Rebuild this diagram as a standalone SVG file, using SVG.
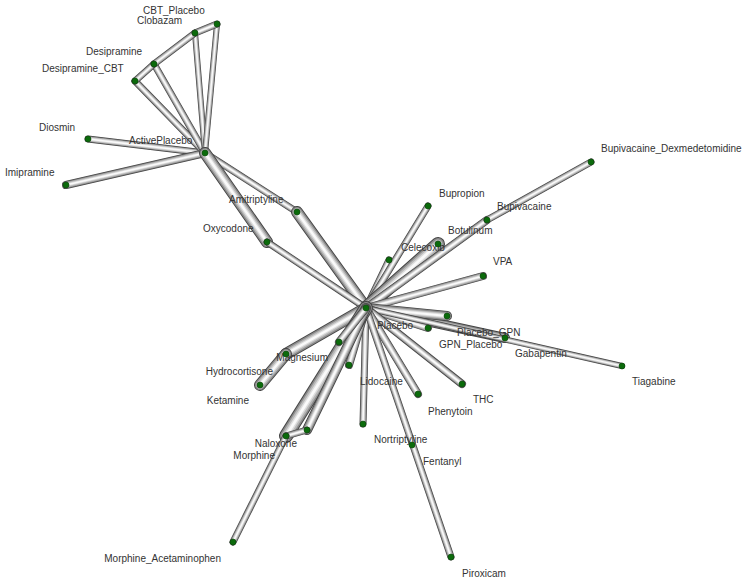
<svg xmlns="http://www.w3.org/2000/svg" xmlns:xlink="http://www.w3.org/1999/xlink" width="749" height="581" viewBox="0 0 749 581">
<style>
.bg{fill:#ffffff}
.a{stroke:#444444;stroke-linecap:round}
.b{stroke:#8a8a8a;stroke-linecap:round}
.c{stroke:#b8b8b8;stroke-linecap:round}
.d{stroke:#dddddd;stroke-linecap:round}
.f{stroke:#fafafa;stroke-linecap:round}
.w6 .a{stroke-width:6}.w6 .b{stroke-width:4.8}.w6 .c{stroke-width:3.6}.w6 .d{stroke-width:2.4}.w6 .f{stroke-width:1.2}
.w7 .a{stroke-width:7}.w7 .b{stroke-width:5.7}.w7 .c{stroke-width:4.3}.w7 .d{stroke-width:2.8}.w7 .f{stroke-width:1.4}
.w8 .a{stroke-width:8}.w8 .b{stroke-width:6.6}.w8 .c{stroke-width:5}.w8 .d{stroke-width:3.2}.w8 .f{stroke-width:1.6}
.w10 .a{stroke-width:10}.w10 .b{stroke-width:8.4}.w10 .c{stroke-width:6.2}.w10 .d{stroke-width:4}.w10 .f{stroke-width:2}
.w12 .a{stroke-width:12}.w12 .b{stroke-width:10.2}.w12 .c{stroke-width:7.6}.w12 .d{stroke-width:4.8}.w12 .f{stroke-width:2.4}
.w14 .a{stroke-width:14}.w14 .b{stroke-width:12}.w14 .c{stroke-width:9}.w14 .d{stroke-width:5.6}.w14 .f{stroke-width:2.8}
.n circle{fill:#0b6b0b;stroke:#044004;stroke-width:0.6}
.n text{font-family:"Liberation Sans",Arial,sans-serif;font-size:10px;fill:#333333}
.e{text-anchor:end}
</style>
<defs>
<line id="L1" x1="205" y1="153" x2="88" y2="139"/>
<line id="L2" x1="205" y1="153" x2="66" y2="185"/>
<line id="L3" x1="205" y1="153" x2="135" y2="81"/>
<line id="L4" x1="205" y1="153" x2="154" y2="64"/>
<line id="L5" x1="205" y1="153" x2="195" y2="33"/>
<line id="L6" x1="205" y1="153" x2="217" y2="24"/>
<line id="L7" x1="135" y1="81" x2="154" y2="64"/>
<line id="L8" x1="154" y1="64" x2="195" y2="33"/>
<line id="L9" x1="195" y1="33" x2="217" y2="24"/>
<line id="L10" x1="205" y1="153" x2="297" y2="212"/>
<line id="L11" x1="205" y1="153" x2="267" y2="242"/>
<line id="L12" x1="297" y1="212" x2="366" y2="308"/>
<line id="L13" x1="267" y1="242" x2="366" y2="308"/>
<line id="L14" x1="366" y1="308" x2="389" y2="260"/>
<line id="L15" x1="366" y1="308" x2="428" y2="206"/>
<line id="L16" x1="366" y1="308" x2="438" y2="244"/>
<line id="L17" x1="366" y1="308" x2="487" y2="220"/>
<line id="L18" x1="487" y1="220" x2="591" y2="162"/>
<line id="L19" x1="366" y1="308" x2="483" y2="276"/>
<line id="L20" x1="366" y1="308" x2="447" y2="316"/>
<line id="L21" x1="366" y1="308" x2="428" y2="328"/>
<line id="L22" x1="366" y1="308" x2="505" y2="338"/>
<line id="L23" x1="366" y1="308" x2="622" y2="366"/>
<line id="L24" x1="366" y1="308" x2="462" y2="384"/>
<line id="L25" x1="366" y1="308" x2="418" y2="394"/>
<line id="L26" x1="366" y1="308" x2="363" y2="424"/>
<line id="L27" x1="366" y1="308" x2="451" y2="557"/>
<line id="L28" x1="366" y1="308" x2="349" y2="365"/>
<line id="L29" x1="366" y1="308" x2="339" y2="342"/>
<line id="L30" x1="366" y1="308" x2="286" y2="354"/>
<line id="L31" x1="286" y1="354" x2="260" y2="385"/>
<line id="L32" x1="366" y1="308" x2="286" y2="436"/>
<line id="L33" x1="366" y1="308" x2="307" y2="430"/>
<line id="L34" x1="307" y1="430" x2="286" y2="436"/>
<line id="L35" x1="286" y1="436" x2="233" y2="542"/>
</defs>
<rect class="bg" x="0" y="0" width="749" height="581"/>
<g id="connectors">
<g id="e-ap-diosmin" class="w7"><use href="#L1" class="a"/><use href="#L1" class="b"/><use href="#L1" class="c"/><use href="#L1" class="d"/><use href="#L1" class="f"/></g>
<g id="e-ap-imipramine" class="w8"><use href="#L2" class="a"/><use href="#L2" class="b"/><use href="#L2" class="c"/><use href="#L2" class="d"/><use href="#L2" class="f"/></g>
<g id="e-ap-desipramine_cbt" class="w7"><use href="#L3" class="a"/><use href="#L3" class="b"/><use href="#L3" class="c"/><use href="#L3" class="d"/><use href="#L3" class="f"/></g>
<g id="e-ap-desipramine" class="w7"><use href="#L4" class="a"/><use href="#L4" class="b"/><use href="#L4" class="c"/><use href="#L4" class="d"/><use href="#L4" class="f"/></g>
<g id="e-ap-clobazam" class="w6"><use href="#L5" class="a"/><use href="#L5" class="b"/><use href="#L5" class="c"/><use href="#L5" class="d"/><use href="#L5" class="f"/></g>
<g id="e-ap-cbt_placebo" class="w6"><use href="#L6" class="a"/><use href="#L6" class="b"/><use href="#L6" class="c"/><use href="#L6" class="d"/><use href="#L6" class="f"/></g>
<g id="e-dcbt-desipramine" class="w7"><use href="#L7" class="a"/><use href="#L7" class="b"/><use href="#L7" class="c"/><use href="#L7" class="d"/><use href="#L7" class="f"/></g>
<g id="e-desipramine-clobazam" class="w7"><use href="#L8" class="a"/><use href="#L8" class="b"/><use href="#L8" class="c"/><use href="#L8" class="d"/><use href="#L8" class="f"/></g>
<g id="e-clobazam-cbt_placebo" class="w7"><use href="#L9" class="a"/><use href="#L9" class="b"/><use href="#L9" class="c"/><use href="#L9" class="d"/><use href="#L9" class="f"/></g>
<g id="e-ap-amitriptyline" class="w7"><use href="#L10" class="a"/><use href="#L10" class="b"/><use href="#L10" class="c"/><use href="#L10" class="d"/><use href="#L10" class="f"/></g>
<g id="e-ap-oxycodone" class="w12"><use href="#L11" class="a"/><use href="#L11" class="b"/><use href="#L11" class="c"/><use href="#L11" class="d"/><use href="#L11" class="f"/></g>
<g id="e-amitriptyline-placebo" class="w12"><use href="#L12" class="a"/><use href="#L12" class="b"/><use href="#L12" class="c"/><use href="#L12" class="d"/><use href="#L12" class="f"/></g>
<g id="e-oxycodone-placebo" class="w7"><use href="#L13" class="a"/><use href="#L13" class="b"/><use href="#L13" class="c"/><use href="#L13" class="d"/><use href="#L13" class="f"/></g>
<g id="e-placebo-celecoxib" class="w7"><use href="#L14" class="a"/><use href="#L14" class="b"/><use href="#L14" class="c"/><use href="#L14" class="d"/><use href="#L14" class="f"/></g>
<g id="e-placebo-bupropion" class="w7"><use href="#L15" class="a"/><use href="#L15" class="b"/><use href="#L15" class="c"/><use href="#L15" class="d"/><use href="#L15" class="f"/></g>
<g id="e-placebo-botulinum" class="w14"><use href="#L16" class="a"/><use href="#L16" class="b"/><use href="#L16" class="c"/><use href="#L16" class="d"/><use href="#L16" class="f"/></g>
<g id="e-placebo-bupivacaine" class="w8"><use href="#L17" class="a"/><use href="#L17" class="b"/><use href="#L17" class="c"/><use href="#L17" class="d"/><use href="#L17" class="f"/></g>
<g id="e-bupivacaine-bupi_dex" class="w7"><use href="#L18" class="a"/><use href="#L18" class="b"/><use href="#L18" class="c"/><use href="#L18" class="d"/><use href="#L18" class="f"/></g>
<g id="e-placebo-vpa" class="w8"><use href="#L19" class="a"/><use href="#L19" class="b"/><use href="#L19" class="c"/><use href="#L19" class="d"/><use href="#L19" class="f"/></g>
<g id="e-placebo-gabapentin" class="w10"><use href="#L22" class="a"/><use href="#L22" class="b"/><use href="#L22" class="c"/><use href="#L22" class="d"/><use href="#L22" class="f"/></g>
<g id="e-placebo-placebo_gpn" class="w10"><use href="#L20" class="a"/><use href="#L20" class="b"/><use href="#L20" class="c"/><use href="#L20" class="d"/><use href="#L20" class="f"/></g>
<g id="e-placebo-gpn_placebo" class="w8"><use href="#L21" class="a"/><use href="#L21" class="b"/><use href="#L21" class="c"/><use href="#L21" class="d"/><use href="#L21" class="f"/></g>
<g id="e-placebo-tiagabine" class="w6"><use href="#L23" class="a"/><use href="#L23" class="b"/><use href="#L23" class="c"/><use href="#L23" class="d"/><use href="#L23" class="f"/></g>
<g id="e-placebo-thc" class="w8"><use href="#L24" class="a"/><use href="#L24" class="b"/><use href="#L24" class="c"/><use href="#L24" class="d"/><use href="#L24" class="f"/></g>
<g id="e-placebo-phenytoin" class="w8"><use href="#L25" class="a"/><use href="#L25" class="b"/><use href="#L25" class="c"/><use href="#L25" class="d"/><use href="#L25" class="f"/></g>
<g id="e-placebo-nortriptyline" class="w7"><use href="#L26" class="a"/><use href="#L26" class="b"/><use href="#L26" class="c"/><use href="#L26" class="d"/><use href="#L26" class="f"/></g>
<g id="e-placebo-piroxicam" class="w7"><use href="#L27" class="a"/><use href="#L27" class="b"/><use href="#L27" class="c"/><use href="#L27" class="d"/><use href="#L27" class="f"/></g>
<g id="e-placebo-lidocaine" class="w8"><use href="#L28" class="a"/><use href="#L28" class="b"/><use href="#L28" class="c"/><use href="#L28" class="d"/><use href="#L28" class="f"/></g>
<g id="e-placebo-hydrocortisone" class="w12"><use href="#L30" class="a"/><use href="#L30" class="b"/><use href="#L30" class="c"/><use href="#L30" class="d"/><use href="#L30" class="f"/></g>
<g id="e-hydrocortisone-ketamine" class="w12"><use href="#L31" class="a"/><use href="#L31" class="b"/><use href="#L31" class="c"/><use href="#L31" class="d"/><use href="#L31" class="f"/></g>
<g id="e-placebo-morphine" class="w14"><use href="#L32" class="a"/><use href="#L32" class="b"/><use href="#L32" class="c"/><use href="#L32" class="d"/><use href="#L32" class="f"/></g>
<g id="e-placebo-naloxone" class="w10"><use href="#L33" class="a"/><use href="#L33" class="b"/><use href="#L33" class="c"/><use href="#L33" class="d"/><use href="#L33" class="f"/></g>
<g id="e-placebo-magnesium" class="w8"><use href="#L29" class="a"/><use href="#L29" class="b"/><use href="#L29" class="c"/><use href="#L29" class="d"/><use href="#L29" class="f"/></g>
<g id="e-naloxone-morphine" class="w7"><use href="#L34" class="a"/><use href="#L34" class="b"/><use href="#L34" class="c"/><use href="#L34" class="d"/><use href="#L34" class="f"/></g>
<g id="e-morphine-morphine_acet" class="w7"><use href="#L35" class="a"/><use href="#L35" class="b"/><use href="#L35" class="c"/><use href="#L35" class="d"/><use href="#L35" class="f"/></g>
</g>
<g id="n-activeplacebo" class="n"><circle cx="205" cy="153" r="3"/><text x="129" y="144">ActivePlacebo</text></g>
<g id="n-cbt_placebo" class="n"><circle cx="217" cy="24" r="3"/><text x="143" y="14">CBT_Placebo</text></g>
<g id="n-clobazam" class="n"><circle cx="195" cy="33" r="3"/><text x="137" y="24">Clobazam</text></g>
<g id="n-desipramine" class="n"><circle cx="154" cy="64" r="3"/><text x="86" y="55">Desipramine</text></g>
<g id="n-desipramine_cbt" class="n"><circle cx="135" cy="81" r="3"/><text x="42" y="72">Desipramine_CBT</text></g>
<g id="n-diosmin" class="n"><circle cx="88" cy="139" r="3"/><text x="39" y="131">Diosmin</text></g>
<g id="n-imipramine" class="n"><circle cx="66" cy="185" r="3"/><text x="5" y="176">Imipramine</text></g>
<g id="n-amitriptyline" class="n"><circle cx="297" cy="212" r="3"/><text x="229" y="203">Amitriptyline</text></g>
<g id="n-oxycodone" class="n"><circle cx="267" cy="242" r="3"/><text x="203" y="232">Oxycodone</text></g>
<g id="n-placebo" class="n"><circle cx="366" cy="308" r="3"/><text x="377" y="329">Placebo</text></g>
<g id="n-celecoxib" class="n"><circle cx="389" cy="260" r="3"/><text x="401" y="251">Celecoxib</text></g>
<g id="n-bupropion" class="n"><circle cx="428" cy="206" r="3"/><text x="439" y="197">Bupropion</text></g>
<g id="n-botulinum" class="n"><circle cx="438" cy="244" r="3"/><text x="448" y="234">Botulinum</text></g>
<g id="n-bupivacaine" class="n"><circle cx="487" cy="220" r="3"/><text x="497" y="210">Bupivacaine</text></g>
<g id="n-bupivacaine_dexmedetomidine" class="n"><circle cx="591" cy="162" r="3"/><text x="601" y="152">Bupivacaine_Dexmedetomidine</text></g>
<g id="n-vpa" class="n"><circle cx="483" cy="276" r="3"/><text x="493" y="265">VPA</text></g>
<g id="n-placebo_gpn" class="n"><circle cx="447" cy="316" r="3"/><text x="457" y="336">Placebo_GPN</text></g>
<g id="n-gpn_placebo" class="n"><circle cx="428" cy="328" r="3"/><text x="439" y="348">GPN_Placebo</text></g>
<g id="n-gabapentin" class="n"><circle cx="505" cy="338" r="3"/><text x="515" y="357">Gabapentin</text></g>
<g id="n-tiagabine" class="n"><circle cx="622" cy="366" r="3"/><text x="632" y="385">Tiagabine</text></g>
<g id="n-thc" class="n"><circle cx="462" cy="384" r="3"/><text x="473" y="403">THC</text></g>
<g id="n-phenytoin" class="n"><circle cx="418" cy="394" r="3"/><text x="428" y="415">Phenytoin</text></g>
<g id="n-lidocaine" class="n"><circle cx="349" cy="365" r="3"/><text x="360" y="385">Lidocaine</text></g>
<g id="n-nortriptyline" class="n"><circle cx="363" cy="424" r="3"/><text x="374" y="443">Nortriptyline</text></g>
<g id="n-fentanyl" class="n"><circle cx="412" cy="445" r="3"/><text x="423" y="465">Fentanyl</text></g>
<g id="n-piroxicam" class="n"><circle cx="451" cy="557" r="3"/><text x="462" y="577">Piroxicam</text></g>
<g id="n-magnesium" class="n"><circle cx="339" cy="342" r="3"/><text class="e" x="328" y="361">Magnesium</text></g>
<g id="n-hydrocortisone" class="n"><circle cx="286" cy="354" r="3"/><text class="e" x="273" y="375">Hydrocortisone</text></g>
<g id="n-ketamine" class="n"><circle cx="260" cy="385" r="3"/><text class="e" x="249" y="404">Ketamine</text></g>
<g id="n-naloxone" class="n"><circle cx="307" cy="430" r="3"/><text class="e" x="297" y="447">Naloxone</text></g>
<g id="n-morphine" class="n"><circle cx="286" cy="436" r="3"/><text class="e" x="275" y="459">Morphine</text></g>
<g id="n-morphine_acetaminophen" class="n"><circle cx="233" cy="542" r="3"/><text class="e" x="221" y="562">Morphine_Acetaminophen</text></g>
</svg>
